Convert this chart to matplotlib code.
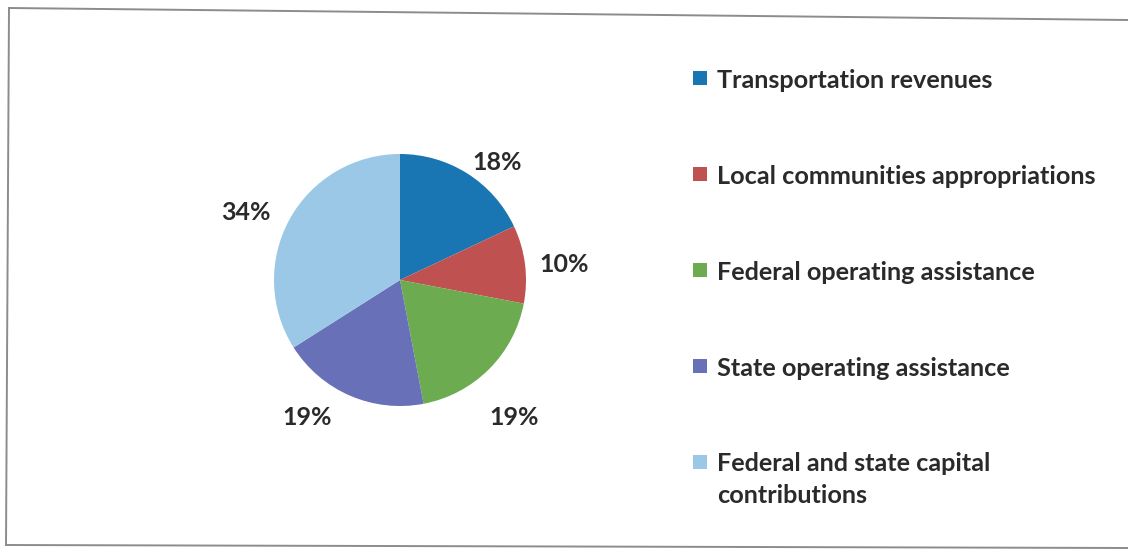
import matplotlib.pyplot as plt
from matplotlib.lines import Line2D
from matplotlib.patches import Rectangle

# Revenue sources, shares in percent
categories = [
    "Transportation revenues",
    "Local communities appropriations",
    "Federal operating assistance",
    "State operating assistance",
    "Federal and state capital\ncontributions",
]
shares = [18, 10, 19, 19, 34]
colors = ["#1a76b2", "#c05151", "#6cab50", "#6870b8", "#9ac8e6"]

# Label anchors in pie units (radius = 1), baseline aligned
label_xy = [(0.77, 0.87), (1.30, 0.06), (0.91, -1.15), (-0.74, -1.15), (-1.22, 0.48)]

W, H = 1128, 553
plt.rcParams["font.family"] = ["Lato", "DejaVu Sans"]
plt.rcParams["font.weight"] = "bold"
fig = plt.figure(figsize=(W / 100, H / 100), dpi=100)
fig.patch.set_facecolor("white")


def px(x, y):
    # pixel position (from top-left) to figure fraction
    return x / W, 1 - y / H


# Pie centred at (400, 280) px with radius 126 px
cx, cy, r = 400, 280, 126
ax = fig.add_axes([(cx - r) / W, (H - cy - r) / H, 2 * r / W, 2 * r / H])
wedges, texts, autotexts = ax.pie(
    shares,
    colors=colors,
    startangle=90,
    counterclock=False,
    autopct="%1.0f%%",
    wedgeprops=dict(linewidth=0),
)
ax.set_xlim(-1, 1)
ax.set_ylim(-1, 1)
ax.set_aspect("equal")
for t, (x, y) in zip(autotexts, label_xy):
    t.set_position((x, y))
    t.set_ha("center")
    t.set_va("baseline")
    t.set_fontsize(18)
    t.set_color("#2a2a2a")

# Legend drawn as a column of swatches and labels
top_baseline = 88
pitch = 96
line_gap = 31
for i, (name, col) in enumerate(zip(categories, colors)):
    base = top_baseline + i * pitch
    x0, y0 = px(693, base - 3)
    fig.patches.append(
        Rectangle((x0, y0), 14 / W, 14 / H, transform=fig.transFigure,
                  facecolor=col, edgecolor="none")
    )
    # multi-line labels are anchored on their last baseline
    last = base + name.count("\n") * line_gap
    fig.text(717 / W, 1 - last / H, name, fontsize=18.2, color="#2a2a2a",
             va="baseline", ha="left", linespacing=1.45)

# Thin grey frame around the chart
frame = [(9, 8), (1128, 20), None, (9, 8), (6, 545), None, (6, 545), (1128, 548)]
segs = []
cur = []
for p in frame:
    if p is None:
        segs.append(cur)
        cur = []
    else:
        cur.append(px(*p))
segs.append(cur)
for seg in segs:
    xs, ys = zip(*seg)
    fig.lines.append(Line2D(xs, ys, transform=fig.transFigure, color="#8c8c8c", lw=1.4))

fig.savefig("out.png", dpi=100)
